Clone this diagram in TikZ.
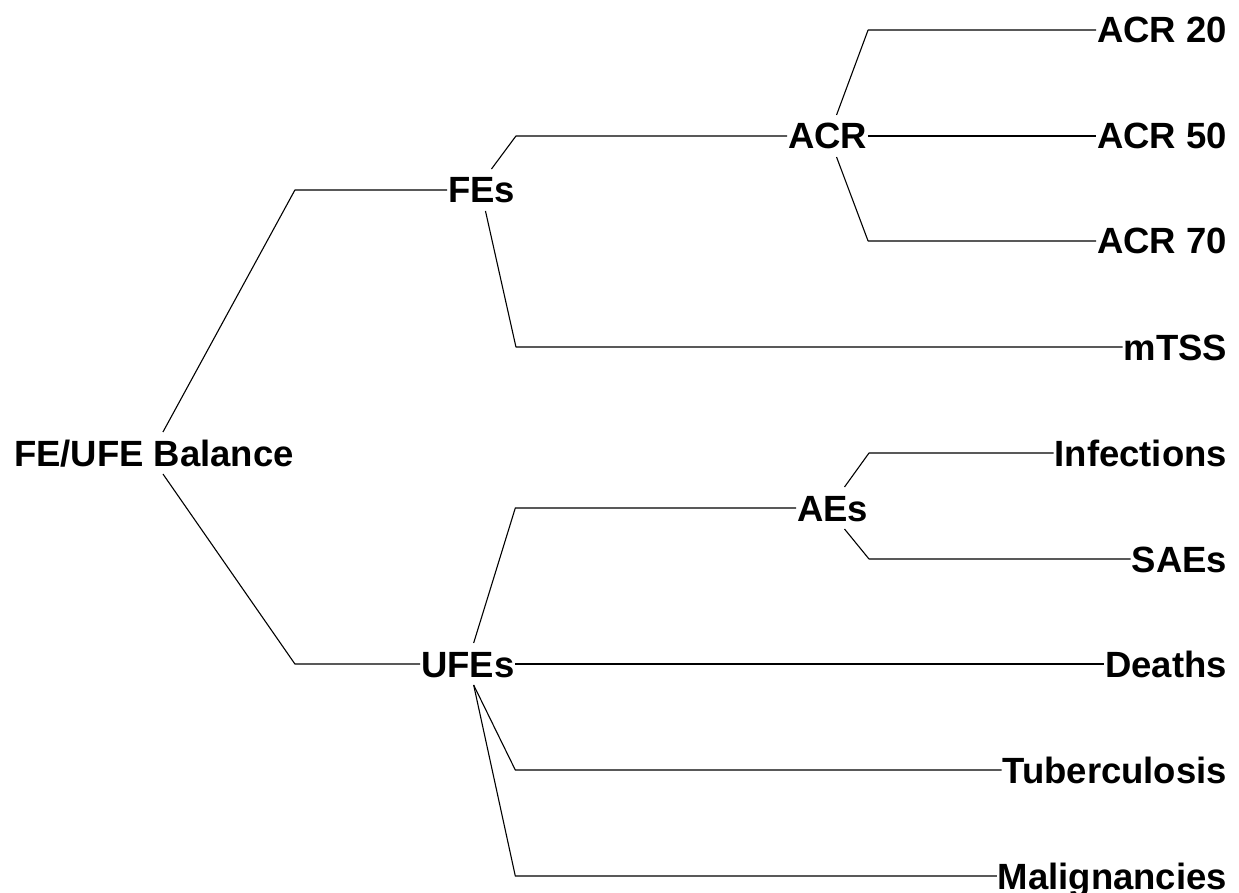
\documentclass[tikz,border=0pt]{standalone}
\usepackage{fontspec}
\setmainfont{Liberation Sans}
\usepackage{tikz}

\begin{document}
\begin{tikzpicture}[x=1pt,y=-1pt,join=round,
        lbl/.style={font=\fontsize{36.5}{40}\selectfont\bfseries,inner xsep=1pt,inner ysep=0pt,
                outer sep=0pt,text height=34pt,text depth=8pt},
        mid/.style={lbl,anchor=west},
        leaf/.style={lbl,anchor=east},
        br/.style={line width=1.1pt}] % FE/UFE balance tree
        \useasboundingbox (0,0) rectangle (1239,893);
        \node[mid] (root) at (13,453) {FE/UFE Balance};
        \node[mid] (fes) at (447,190) {FEs};
        \node[mid] (ufes) at (420,664) {UFEs};
        \node[mid] (acr) at (787,136) {ACR};
        \node[mid] (aes) at (796,508) {AEs};
        \node[leaf] (acr20) at (1228,30) {ACR 20};
        \node[leaf] (acr50) at (1228,136) {ACR 50};
        \node[leaf] (acr70) at (1228,241) {ACR 70};
        \node[leaf] (mtss) at (1228,347) {mTSS};
        \node[leaf] (inf) at (1228,453) {Infections};
        \node[leaf] (saes) at (1228,559) {SAEs};
        \node[leaf] (deaths) at (1228,664) {Deaths};
        \node[leaf] (tb) at (1228,770) {Tuberculosis};
        \node[leaf] (malig) at (1228,876) {Malignancies};
        \draw[br] ([xshift=9pt]root.north)--(root.east |- fes.west)--(fes.west);
        \draw[br] ([xshift=9pt]root.south)--(root.east |- ufes.west)--(ufes.west);
        \draw[br] ([xshift=10pt]fes.north)--(fes.east |- acr.west)--(acr.west);
        \draw[br] ([xshift=4pt]fes.south)--(fes.east |- mtss.west)--(mtss.west);
        \draw[br] ([xshift=9pt]acr.north)--(acr.east |- acr20.west)--(acr20.west);
        \draw[br] (acr.east)--(acr50.west);
        \draw[br] ([xshift=9pt]acr.south)--(acr.east |- acr70.west)--(acr70.west);
        \draw[br] ([xshift=6pt]ufes.north)--(ufes.east |- aes.west)--(aes.west);
        \draw[br] (ufes.east)--(deaths.west);
        \draw[br] ([xshift=6pt]ufes.south)--(ufes.east |- tb.west)--(tb.west);
        \draw[br] ([xshift=6pt]ufes.south)--(ufes.east |- malig.west)--(malig.west);
        \draw[br] ([xshift=12pt]aes.north)--(aes.east |- inf.west)--(inf.west);
        \draw[br] ([xshift=12pt]aes.south)--(aes.east |- saes.west)--(saes.west);
\end{tikzpicture}
\end{document}
